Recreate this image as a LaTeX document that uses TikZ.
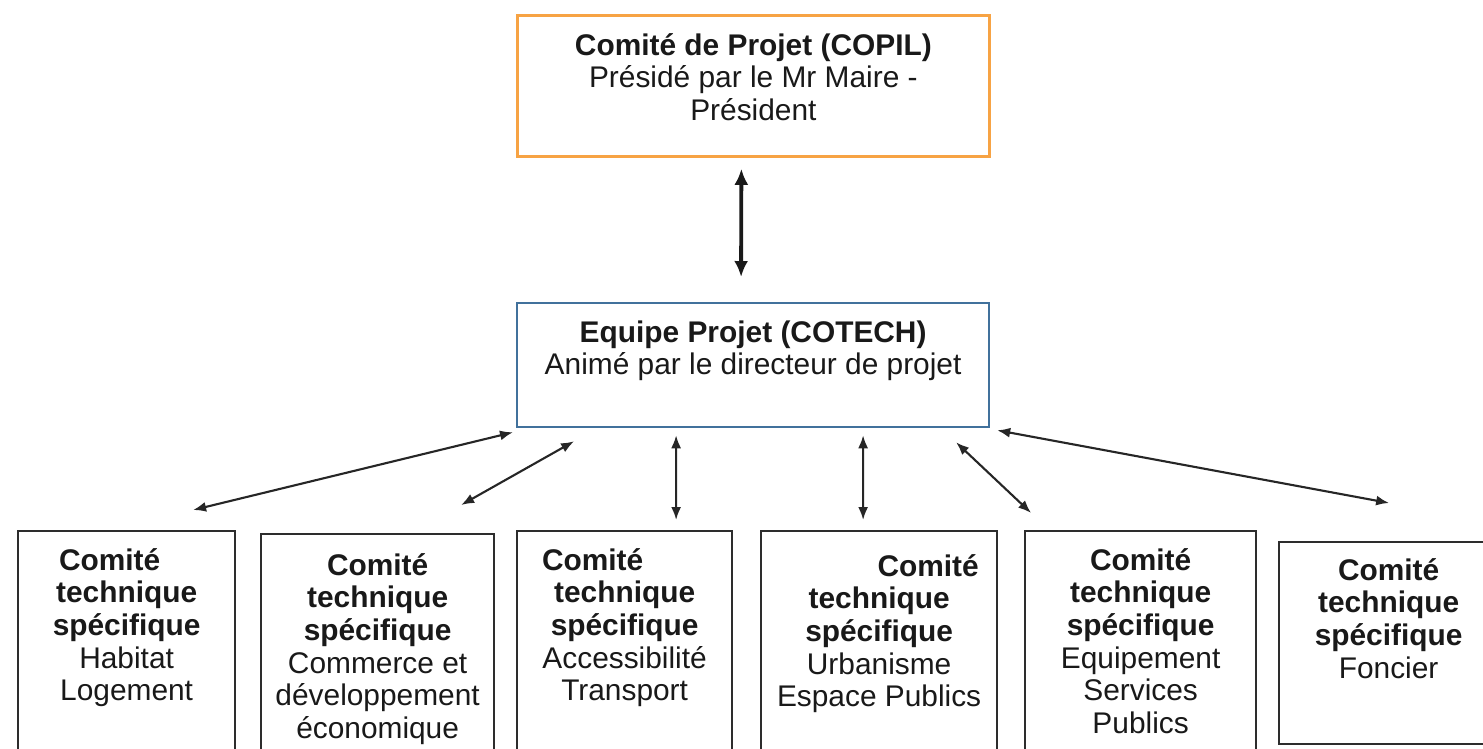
\documentclass[tikz,border=0pt]{standalone}
\usepackage{fontspec}
\setmainfont{Liberation Sans}
\usepackage{tikz}
\usetikzlibrary{positioning}
\usetikzlibrary{arrows.meta}

\definecolor{copilorange}{RGB}{247,163,68}
\definecolor{cotechblue}{RGB}{65,113,156}
\definecolor{boxgray}{RGB}{45,45,45}

\newcommand{\nudge}[2]{\kern#1\relax#2\kern-#1\relax}

\begin{document}
\begin{tikzpicture}[
	x=0.02cm, y=-0.02cm,
	box/.style={
		rectangle,
		draw=boxgray,
		line width=1.3pt,
		anchor=north west,
		inner sep=0pt
		},
	copil/.style={
		box,
		draw=copilorange,
		line width=1.6pt
	},
	cotech/.style={
		box,
		draw=cotechblue
	},
	txt/.style={
		anchor=north,
		inner sep=0pt,
		align=center,
		text=black!90,
		font=\fontsize{17}{18.6}\selectfont
	},
	link/.style={
		{Latex[length=2.6mm,width=2mm]}-{Latex[length=2.6mm,width=2mm]},
		line width=1.2pt,
		draw=black!85
	},
	bigarrow/.style={
		{Latex[length=3.2mm,width=2.8mm]}-{Latex[length=3.2mm,width=2.8mm]},
		line width=2.2pt,
		draw=black!90
	}
]
\useasboundingbox (0,0) rectangle (1483,748);

% Top levels
\node [copil, minimum width=9.44cm, minimum height=2.82cm] (copil) at (516,14) {};
\node [txt, below=0.38cm of copil.north] (copil text) {\textbf{Comité de Projet (COPIL)}\\Présidé par le Mr Maire -\\Président};
\node [cotech, minimum width=9.44cm, minimum height=2.48cm] (cotech) at (516,302) {};
\node [txt, below=0.36cm of cotech.north] (cotech text) {\textbf{Equipe Projet (COTECH)}\\Animé par le directeur de projet};

% Technical committees
\node [box, minimum width=4.34cm, minimum height=4.8cm] (habitat) at (17,530) {};
\node [box, minimum width=4.66cm, minimum height=4.8cm] (commerce) at (260,533) {};
\node [box, minimum width=4.3cm, minimum height=4.8cm] (transport) at (516,530) {};
\node [box, minimum width=4.72cm, minimum height=4.8cm] (urbanisme) at (760,530) {};
\node [box, minimum width=4.62cm, minimum height=4.8cm] (equipement) at (1024,530) {};
\node [box, minimum width=4.8cm, minimum height=4.04cm] (foncier) at (1278,541) {};

\node [txt, below=0.36cm of habitat.north] (habitat text) {\nudge{-0.34cm}{\textbf{Comité}}\\\textbf{technique}\\\textbf{spécifique}\\Habitat\\Logement};
\node [txt, below=0.4cm of commerce.north] (commerce text) {\textbf{Comité}\\\textbf{technique}\\\textbf{spécifique}\\Commerce et\\développement\\économique};
\node [txt, below=0.36cm of transport.north] (transport text) {\nudge{-0.64cm}{\textbf{Comité}}\\\textbf{technique}\\\textbf{spécifique}\\Accessibilité\\Transport};
\node [txt, below=0.48cm of urbanisme.north] (urbanisme text) {\nudge{0.98cm}{\textbf{Comité}}\\\textbf{technique}\\\textbf{spécifique}\\Urbanisme\\Espace Publics};
\node [txt, below=0.36cm of equipement.north] (equipement text) {\textbf{Comité}\\\textbf{technique}\\\textbf{spécifique}\\Equipement\\Services\\Publics};
\node [txt, below=0.34cm of foncier.north, xshift=-0.21cm] (foncier text) {\textbf{Comité}\\\textbf{technique}\\\textbf{spécifique}\\Foncier};

% Links
\draw [bigarrow] ([shift={(-12,11)}]copil.south) -- ([shift={(-12,-25)}]cotech.north);
\draw [link] ([shift={(-3,4)}]cotech.south west) -- ([shift={(66.5,-20)}]habitat.north);
\draw [link] ([shift={(-179,13)}]cotech.south) -- ([shift={(83.5,-28)}]commerce.north);
\draw [link] ([shift={(-77,7)}]cotech.south) -- ([shift={(51.5,-10)}]transport.north);
\draw [link] ([shift={(110,7)}]cotech.south) -- ([shift={(-16,-10)}]urbanisme.north);
\draw [link] ([shift={(203,14)}]cotech.south) -- ([shift={(-109.5,-17)}]equipement.north);
\draw [link] ([shift={(7,2)}]cotech.south east) -- ([shift={(-10,-38)}]foncier.north);
\end{tikzpicture}
\end{document}
